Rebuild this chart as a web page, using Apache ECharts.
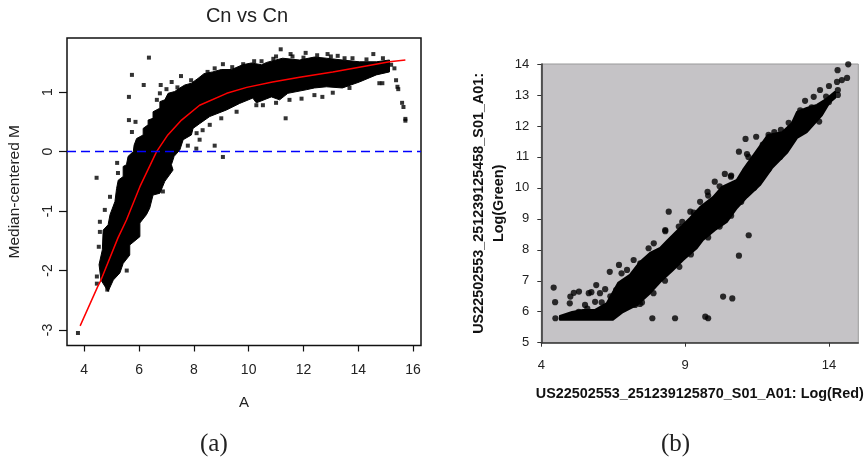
<!DOCTYPE html>
<html><head><meta charset="utf-8">
<style>html,body{margin:0;padding:0;background:#fff}#c{width:865px;height:461px}</style>
<script src="https://cdn.jsdelivr.net/npm/echarts@6/dist/echarts.min.js"></script>
</head><body><div id="c"></div>
<script>
// Panel (a): Cn vs Cn
const xTicksA = [4,6,8,10,12,14,16];
const yTicksA = [-3,-2,-1,0,1];
const cloudUpperA = [[4.61,-2.16],[4.54,-1.90],[4.66,-1.65],[4.69,-1.32],[4.87,-1.23],[4.94,-1.06],[5.12,-0.84],[5.18,-0.62],[5.24,-0.48],[5.42,-0.42],[5.42,-0.25],[5.54,-0.22],[5.60,-0.08],[5.79,0],[5.82,0.11],[5.91,0.22],[6.15,0.28],[6.15,0.39],[6.33,0.45],[6.33,0.53],[6.51,0.56],[6.51,0.67],[6.76,0.73],[6.76,0.84],[6.94,0.87],[7.06,0.98],[7.30,1.01],[7.49,1.07],[7.67,1.12],[7.91,1.15],[8.15,1.23],[8.37,1.31],[8.69,1.34],[9.0,1.38],[9.38,1.38],[9.78,1.46],[10.1,1.49],[10.47,1.46],[10.66,1.50],[11.24,1.57],[11.86,1.54],[12.40,1.59],[12.84,1.57],[13.42,1.54],[14.04,1.51],[14.66,1.51],[15.14,1.54]];
const cloudLowerA = [[4.87,-2.35],[5.06,-2.16],[5.30,-2.04],[5.42,-1.88],[5.66,-1.74],[5.66,-1.57],[6.03,-1.43],[6.03,-1.20],[6.27,-1.06],[6.39,-0.95],[6.51,-0.73],[6.76,-0.70],[6.94,-0.50],[7.24,-0.31],[7.18,-0.22],[7.28,-0.08],[7.49,0.03],[7.61,0.20],[7.91,0.28],[7.97,0.39],[8.21,0.47],[8.58,0.59],[9.19,0.70],[9.67,0.81],[10.15,0.90],[10.28,0.82],[10.83,0.92],[11.13,0.87],[11.43,0.98],[12.1,1.04],[12.4,1.07],[12.84,1.09],[13.42,1.07],[14.04,1.17],[14.66,1.29],[15.14,1.34]];
const outliersA = [[6.36,1.58],[5.74,1.29],[6.17,1.12],[5.63,0.92],[5.63,0.53],[5.87,0.50],[5.74,0.33],[4.45,-0.44],[8.76,0.10],[9.06,-0.09],[11.35,0.56],[15.72,0.55],[15.72,0.52],[15.6,0.82],[15.65,0.75],[15.43,1.09],[15.46,1.05],[15.38,1.2],[15.32,1.4],[14.77,1.15],[14.88,1.15],[11.17,1.72],[12.08,1.66],[11.53,1.64],[12.88,1.64],[13.25,1.61],[14.55,1.64],[13.79,1.57],[10.47,1.52],[9.06,1.47],[8.76,1.40],[7.53,1.27],[6.79,1.12],[7.19,1.17],[6.76,0.98],[6.65,0.87],[9.0,0.56],[9.56,0.67],[8.58,0.45],[8.21,0.2],[8.09,0.05],[7.78,0.10],[8.1,0.31],[8.32,0.36],[6.76,-0.61],[6.87,-0.67],[5.55,-2.0],[3.77,-3.05],[4.46,-2.1],[4.46,-2.22],[4.84,-2.32],[4.53,-1.6],[4.57,-1.35],[4.75,-0.98],[4.57,-1.18],[4.94,-0.76],[5.2,-0.19],[5.23,-0.36],[10.28,0.78],[10.52,0.78],[11.0,0.82],[11.49,0.87],[11.93,0.89],[12.4,0.95],[12.69,0.92],[13.07,0.99],[13.68,1.07],[7.0,1.05],[7.4,1.08],[7.9,1.2],[8.5,1.34],[9.8,1.47],[10.9,1.56],[11.6,1.6],[12.5,1.62],[13.5,1.57],[14.3,1.55],[14.9,1.57],[15.2,1.46],[12.0,1.58],[11.0,1.6],[13.0,1.6],[10.2,1.52],[9.4,1.42]];
const loessA = [[3.85,-2.93],[4.49,-2.27],[4.61,-2.16],[5.23,-1.45],[5.54,-1.15],[6.03,-0.59],[6.64,0],[7.05,0.28],[7.55,0.53],[8.21,0.78],[9.2,0.98],[9.93,1.08],[10.87,1.17],[11.86,1.25],[13.07,1.34],[14.29,1.44],[15.14,1.51],[15.72,1.54]];
const baselineA = [[3.37,0],[16.29,0]];

// Panel (b): Log(Red) vs Log(Green)
const xTicksB = [4,9,14];
const yTicksB = [5,6,7,8,9,10,11,12,13,14];
const cloudUpperB = [[4.65,5.86],[5.07,5.99],[5.45,6.06],[5.87,6.06],[6.28,6.28],[6.67,6.93],[7.08,7.19],[7.43,7.61],[7.78,7.90],[8.13,8.06],[8.40,8.32],[8.75,8.64],[9.17,9.03],[9.52,9.38],[9.97,9.70],[10.28,10.03],[10.80,10.26],[11.01,10.58],[11.50,11.22],[11.88,11.71],[12.37,11.80],[12.71,12.09],[12.89,12.45],[13.23,12.58],[13.58,12.68],[13.86,12.84],[14.21,13.10]];
const cloudLowerB = [[4.65,5.74],[6.49,5.74],[6.84,5.99],[7.33,6.22],[7.78,6.60],[8.13,6.96],[8.58,7.35],[8.93,7.67],[9.41,8.06],[9.62,8.32],[10.04,8.64],[10.45,8.90],[10.80,9.35],[11.15,9.70],[11.60,10.09],[12.02,10.64],[12.54,11.13],[12.89,11.61],[13.23,11.80],[13.76,12.35],[14.03,12.77],[14.21,12.90]];
const outliersB = [[14.67,13.99],[14.3,13.8],[14.63,13.55],[14.45,13.48],[14.28,13.42],[14.0,13.29],[13.69,13.16],[14.31,13.16],[14.31,13.0],[14.0,12.77],[13.47,12.94],[13.17,12.81],[13.66,12.14],[12.33,11.87],[11.47,11.65],[11.1,11.58],[11.9,11.71],[10.87,11.17],[11.15,11.09],[10.38,10.45],[10.59,10.36],[10.03,10.2],[9.78,9.87],[9.52,9.55],[8.43,9.23],[9.18,9.23],[8.31,8.64],[8.78,8.75],[11.21,8.47],[10.87,7.81],[10.32,6.49],[10.64,6.43],[7.86,5.79],[8.65,5.79],[9.7,5.84],[9.8,5.79],[4.43,6.78],[4.48,6.31],[4.49,5.79],[5.01,6.49],[4.99,6.27],[5.13,6.61],[5.31,6.65],[5.65,6.6],[5.74,6.63],[5.91,6.86],[6.22,6.73],[6.38,7.29],[6.7,7.51],[6.79,7.24],[6.98,7.35],[7.21,7.67],[7.44,7.56],[7.73,8.05],[7.91,8.21],[8.31,8.6],[5.52,6.22],[5.87,6.32],[6.04,6.6],[7.26,6.22],[7.43,6.25],[5.3,6.0],[5.6,6.1],[6.1,6.3],[6.4,6.5],[6.6,6.7],[8.9,8.9],[9.3,9.2],[9.8,9.75],[10.2,10.05],[10.6,10.4],[11.2,11.0],[11.7,11.4],[12.1,11.8],[12.6,12.1],[13.0,12.5],[13.4,12.6],[13.9,12.95],[12.3,11.0],[11.9,10.6],[11.4,10.0],[10.95,9.55],[10.6,9.1],[10.2,8.75],[9.8,8.4],[9.2,7.85],[8.8,7.45],[8.3,7.0],[7.9,6.6],[7.5,6.3]];

function band(upper, lower, id, stroke) {
  const pts = upper.concat(lower.slice().reverse());
  return {
    type: 'custom', xAxisIndex: id, yAxisIndex: id, silent: true, z: 2,
    data: pts,
    renderItem(params, api) {
      if (params.dataIndex !== 0) return null;
      return { type: 'polygon', shape: { points: pts.map(p => api.coord(p)) }, style: { fill: '#000', stroke: '#000', lineWidth: stroke, lineJoin: 'round' } };
    }
  };
}
const ink = '#222';
const labelFont = 'Liberation Sans';
const chart = echarts.init(document.getElementById('c'), null, { renderer: 'canvas' });
chart.setOption({
  animation: false,
  backgroundColor: '#fff',
  title: [{ text: 'Cn vs Cn', left: 242, top: 1, textAlign: 'center',
    textStyle: { fontFamily: labelFont, fontSize: 20, fontWeight: 'normal', color: ink } }],
  grid: [
    { left: 67, top: 38, width: 354, height: 307.5, show: true, borderColor: '#111', borderWidth: 1.5, backgroundColor: '#fff', containLabel: false, outerBoundsMode: 'none' },
    { left: 541.3, top: 64, width: 317, height: 278.7, show: true, borderColor: '#999', borderWidth: 1, backgroundColor: '#c5c3c6', containLabel: false, outerBoundsMode: 'none' }
  ],
  xAxis: [
    { gridIndex: 0, type: 'value', min: 3.37, max: 16.29, splitLine: { show: false },
      axisLine: { show: false, onZero: false }, axisTick: { length: 6, customValues: xTicksA, lineStyle: { color: '#111', width: 1.2 } },
      axisLabel: { customValues: xTicksA, margin: 18, fontFamily: labelFont, fontSize: 14, color: ink },
      name: 'A', nameLocation: 'middle', nameGap: 50, nameTextStyle: { fontFamily: labelFont, fontSize: 15, color: ink } },
    { gridIndex: 1, type: 'value', min: 4, max: 15.02, splitLine: { show: false },
      axisLine: { show: true, onZero: false, lineStyle: { color: '#333', width: 1.5 } }, axisTick: { length: 4, customValues: xTicksB, lineStyle: { color: '#333' } },
      axisLabel: { customValues: xTicksB, margin: 16, fontFamily: labelFont, fontSize: 13, color: ink },
      name: 'US22502553_251239125870_S01_A01: Log(Red)', nameLocation: 'middle', nameGap: 44,
      nameTextStyle: { fontFamily: labelFont, fontSize: 14.4, fontWeight: 'bold', color: '#111' } }
  ],
  yAxis: [
    { gridIndex: 0, type: 'value', min: -3.26, max: 1.91, splitLine: { show: false },
      axisLine: { show: false, onZero: false }, axisTick: { length: 8, customValues: yTicksA, lineStyle: { color: '#111', width: 1.2 } },
      axisLabel: { customValues: yTicksA, rotate: 90, margin: 12, fontFamily: labelFont, fontSize: 14, color: ink },
      name: 'Median-centered M', nameLocation: 'middle', nameGap: 44, nameTextStyle: { fontFamily: labelFont, fontSize: 15.5, color: ink } },
    { gridIndex: 1, type: 'value', min: 5, max: 14, interval: 1, splitLine: { show: false },
      axisLine: { show: true, onZero: false, lineStyle: { color: '#333', width: 1.5 } }, axisTick: { length: 4, lineStyle: { color: '#333' } },
      axisLabel: { margin: 12, fontFamily: labelFont, fontSize: 13, color: ink },
      name: 'US22502553_251239125458_S01_A01:\nLog(Green)', nameLocation: 'middle', nameGap: 32, nameRotate: 90,
      nameTextStyle: { fontFamily: labelFont, fontSize: 14.4, fontWeight: 'bold', color: '#111', lineHeight: 20 } }
  ],
  series: [
    band(cloudUpperA, cloudLowerA, 0, 1),
    { type: 'scatter', xAxisIndex: 0, yAxisIndex: 0, data: outliersA, symbol: 'rect', symbolSize: 4, itemStyle: { color: '#000' }, z: 3, silent: true },
    { type: 'line', xAxisIndex: 0, yAxisIndex: 0, data: loessA, showSymbol: false, lineStyle: { color: '#f00', width: 1.5 }, z: 4, silent: true },
    { type: 'line', xAxisIndex: 0, yAxisIndex: 0, data: baselineA, showSymbol: false, lineStyle: { color: '#0000ff', width: 1.5, type: [9, 5] }, z: 5, silent: true },
    band(cloudUpperB, cloudLowerB, 1, 2),
    { type: 'scatter', xAxisIndex: 1, yAxisIndex: 1, data: outliersB, symbol: 'circle', symbolSize: 6.2, itemStyle: { color: '#000' }, z: 3, silent: true }
  ],
  graphic: [
    { type: 'text', left: 200, top: 432, style: { text: '(a)', font: '25px "Liberation Serif"', fill: '#222' } },
    { type: 'text', left: 661, top: 432, style: { text: '(b)', font: '25px "Liberation Serif"', fill: '#222' } }
  ]
});
</script></body></html>
